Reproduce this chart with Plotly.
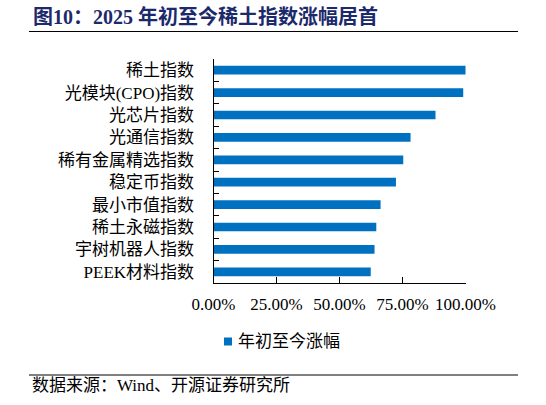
import plotly.graph_objects as go

# ── Data ──────────────────────────────────────────────
CATEGORIES = [
    "稀土指数", "光模块(CPO)指数", "光芯片指数", "光通信指数", "稀有金属精选指数",
    "稳定币指数", "最小市值指数", "稀土永磁指数", "宇树机器人指数", "PEEK材料指数",
]
YTD_CHANGE = [1.005, 0.991, 0.881, 0.782, 0.753, 0.724, 0.663, 0.646, 0.639, 0.624]
X_TICKS = [0, 0.25, 0.5, 0.75, 1.0]
X_TICK_TEXT = ["0.00%", "25.00%", "50.00%", "75.00%", "100.00%"]

TITLE = "图10：2025 年初至今稀土指数涨幅居首"
SOURCE = "数据来源：Wind、开源证券研究所"
SERIES_NAME = "年初至今涨幅"

BAR_COLOR = "#0070C0"
FONT = "Liberation Serif, Times New Roman, Noto Sans CJK SC, serif"
W, H = 546, 405

fig = go.Figure(
    go.Bar(
        x=YTD_CHANGE,
        y=CATEGORIES,
        orientation="h",
        name=SERIES_NAME,
        marker=dict(color=BAR_COLOR, line=dict(width=0)),
        showlegend=False,
    )
)

fig.update_layout(
    width=W, height=H,
    margin=dict(l=0, r=0, t=0, b=0, autoexpand=False),
    paper_bgcolor="white", plot_bgcolor="white",
    font=dict(family=FONT, size=17, color="#000"),
    bargap=0.61,
)

fig.update_xaxes(
    domain=[213.5 / W, 465.5 / W],
    range=[0, 1.0],
    tickmode="array", tickvals=X_TICKS, ticktext=X_TICK_TEXT,
    ticks="inside", ticklen=6, tickcolor="#000",
    showline=True, linecolor="#000", linewidth=1,
    showgrid=False, zeroline=False,
    ticklabelstandoff=6,
    tickfont=dict(size=17),
    automargin=False,
)
fig.update_yaxes(
    domain=[1 - 283 / H, 1 - 59 / H],
    autorange="reversed",
    tickson="boundaries",
    ticks="inside", ticklen=5, tickcolor="#000",
    showline=True, linecolor="#000", linewidth=1,
    showgrid=False,
    ticklabelstandoff=15,
    tickfont=dict(size=17),
    automargin=False,
)

# legend, drawn by hand so the swatch sits tight against the text
fig.add_shape(type="rect", xref="paper", yref="paper",
              x0=224 / W, x1=232 / W, y0=1 - 345.5 / H, y1=1 - 337.5 / H,
              fillcolor=BAR_COLOR, line=dict(width=0))
fig.add_annotation(
    text=SERIES_NAME, xref="paper", yref="paper",
    x=236 / W, y=1 - 341.5 / H, xanchor="left", yanchor="middle",
    showarrow=False, font=dict(size=17, color="#000", family=FONT),
)

# title + rules + source
fig.add_annotation(
    text=f"<b>{TITLE}</b>", xref="paper", yref="paper",
    x=31 / W, y=1 - 16 / H, xanchor="left", yanchor="middle",
    showarrow=False, font=dict(size=20, color="#1c2a6b", family=FONT),
)
fig.add_shape(type="line", xref="paper", yref="paper",
              x0=29 / W, x1=518 / W, y0=1 - 31.5 / H, y1=1 - 31.5 / H,
              line=dict(color="#000", width=1))
fig.add_shape(type="line", xref="paper", yref="paper",
              x0=29 / W, x1=518 / W, y0=1 - 375 / H, y1=1 - 375 / H,
              line=dict(color="#000", width=1))
fig.add_annotation(
    text=SOURCE, xref="paper", yref="paper",
    x=30 / W, y=1 - 385 / H, xanchor="left", yanchor="middle",
    showarrow=False, font=dict(size=17, color="#000", family=FONT),
)

# page body has a default margin; drop it so the figure sits at (0, 0)
fig.write_html("out.html", config={"displayModeBar": False},
               post_script="document.body.style.margin='0';")
